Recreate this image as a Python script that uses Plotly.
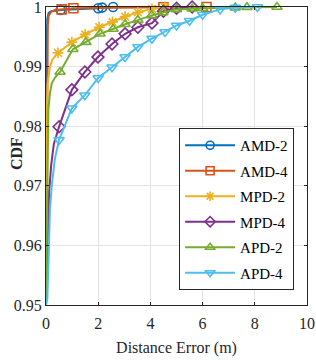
import plotly.graph_objects as go

names = ["AMD-2", "AMD-4", "MPD-2", "MPD-4", "APD-2", "APD-4"]
colors = ["#0072BD", "#D95319", "#EDB120", "#7E2F8E", "#77AC30", "#4DBEEE"]
symbols = ["circle-open", "square-open", "asterisk-open", "diamond-open",
           "triangle-up-open", "triangle-down-open"]

# initial steep rise of each CDF (no markers)
amd2_rise_x = [0, 0.01, 0.03, 0.05, 0.1, 0.2, 0.35]
amd2_rise_y = [0.95, 0.98, 0.995, 0.998, 0.999, 0.9993, 0.9994]
amd4_rise_x = [0, 0.02, 0.04, 0.07, 0.1, 0.2, 0.35]
amd4_rise_y = [0.95, 0.97, 0.99, 0.997, 0.9985, 0.9992, 0.9995]
mpd2_rise_x = [0, 0.01, 0.03, 0.06, 0.1, 0.15, 0.25]
mpd2_rise_y = [0.95, 0.965, 0.9827, 0.987, 0.9888, 0.99, 0.9912]
mpd4_rise_x = [0, 0.03, 0.07, 0.12, 0.2, 0.3]
mpd4_rise_y = [0.95, 0.955, 0.962, 0.969, 0.9735, 0.977]
apd2_rise_x = [0, 0.02, 0.05, 0.09, 0.15, 0.22, 0.35]
apd2_rise_y = [0.95, 0.96, 0.974, 0.9827, 0.9855, 0.9872, 0.9882]
apd4_rise_x = [0, 0.05, 0.1, 0.15, 0.22, 0.34]
apd4_rise_y = [0.95, 0.951, 0.958, 0.966, 0.970, 0.9745]

# marked points of each CDF
amd2_x = [0.56, 2.0, 2.15, 2.57]
amd2_y = [0.9995, 0.9998, 0.9999, 1.0]
amd4_x = [0.6, 1.05, 4.5, 6.15]
amd4_y = [0.9996, 0.9998, 0.99995, 1.0]
mpd2_x = [0.46, 0.99, 1.5, 2.04, 2.55, 3.03, 3.52, 4.06, 4.55]
mpd2_y = [0.9923, 0.9941, 0.9954, 0.9966, 0.9975, 0.9984, 0.9991, 0.9997, 1.0]
mpd4_x = [0.5, 0.99, 1.49, 1.99, 2.53, 3.03, 3.52, 4.06, 4.5, 5.0, 5.6]
mpd4_y = [0.9799, 0.9861, 0.9891, 0.9916, 0.9938, 0.9955, 0.9966, 0.9973,
          0.9993, 0.9998, 1.0]
apd2_x = [0.54, 1.03, 1.53, 2.07, 2.57, 3.03, 3.52, 4.05, 4.48, 5.0, 5.6,
          6.0, 7.25, 7.7, 8.85]
apd2_y = [0.9891, 0.9929, 0.9941, 0.9955, 0.9963, 0.9971, 0.9978, 0.9986,
          0.9991, 0.9996, 0.9997, 0.9998, 0.9999, 0.99995, 1.0]
apd4_x = [0.5, 0.99, 1.49, 2.0, 2.53, 3.03, 3.52, 4.06, 4.56, 5.0, 5.5, 6.0,
          6.67, 7.25, 8.1]
apd4_y = [0.9777, 0.9830, 0.9852, 0.9881, 0.9899, 0.9916, 0.9933, 0.9947,
          0.9958, 0.9969, 0.9977, 0.9987, 0.9996, 0.9999, 1.0]

rises = [(amd2_rise_x, amd2_rise_y), (amd4_rise_x, amd4_rise_y),
         (mpd2_rise_x, mpd2_rise_y), (mpd4_rise_x, mpd4_rise_y),
         (apd2_rise_x, apd2_rise_y), (apd4_rise_x, apd4_rise_y)]
marks = [(amd2_x, amd2_y), (amd4_x, amd4_y), (mpd2_x, mpd2_y),
         (mpd4_x, mpd4_y), (apd2_x, apd2_y), (apd4_x, apd4_y)]

x_ticks = [0, 2, 4, 6, 8, 10]
y_ticks = [0.95, 0.96, 0.97, 0.98, 0.99, 1.0]
y_tick_labels = ["0.95", "0.96", "0.97", "0.98", "0.99", "1"]

FONT = "Liberation Serif, Times New Roman, serif"
fig = go.Figure()
for i, name in enumerate(names):
    rx, ry = rises[i]
    mx, my = marks[i]
    fig.add_trace(go.Scatter(
        x=rx + mx, y=ry + my, mode="lines",
        line=dict(color=colors[i], width=2), showlegend=False,
        legendgroup=name, cliponaxis=False, hoverinfo="skip"))
    fig.add_trace(go.Scatter(
        x=mx, y=my, mode="markers", showlegend=False, legendgroup=name,
        marker=dict(symbol=symbols[i], size=9, color=colors[i],
                    line=dict(color=colors[i], width=1.6)),
        cliponaxis=False))
    fig.add_trace(go.Scatter(
        x=[None], y=[None], mode="lines+markers", name=name, legendgroup=name,
        line=dict(color=colors[i], width=2),
        marker=dict(symbol=symbols[i], size=8, color=colors[i],
                    line=dict(color=colors[i], width=1.6))))

axis_common = dict(
    showgrid=True, gridcolor="#e3e3e3", gridwidth=1,
    showline=True, linecolor="#262626", linewidth=1, mirror="ticks",
    ticks="inside", ticklen=3, tickcolor="#262626",
    tickfont=dict(family=FONT, size=16, color="#262626"), zeroline=False,
    automargin=False, ticklabeloverflow="allow")

fig.update_layout(
    width=316, height=363,
    margin=dict(l=46, r=9, t=7, b=58),
    paper_bgcolor="white", plot_bgcolor="white",
    xaxis=dict(range=[0, 10], tickvals=x_ticks, ticklabelstandoff=4,
               title=dict(text="Distance Error (m)",
                          font=dict(family=FONT, size=16, color="#262626"),
                          standoff=10),
               **axis_common),
    yaxis=dict(range=[0.95, 1.0], tickvals=y_ticks, ticktext=y_tick_labels,
               **axis_common),
    legend=dict(x=0.51, y=0.594, xanchor="left", yanchor="top",
                bgcolor="white", bordercolor="#262626", borderwidth=1,
                font=dict(family=FONT, size=15, color="black"),
                traceorder="grouped", tracegroupgap=3, itemwidth=50),
    annotations=[dict(text="<b>CDF</b>", textangle=-90, xref="paper",
                      yref="paper", x=-0.115, y=0.51,
                      xanchor="center", yanchor="middle", showarrow=False,
                      font=dict(family=FONT, size=16, color="#262626"))],
)

fig.write_html("out.html", config={"displayModeBar": False},
               post_script="document.body.style.margin='0';"
                           "document.body.style.padding='0';")
